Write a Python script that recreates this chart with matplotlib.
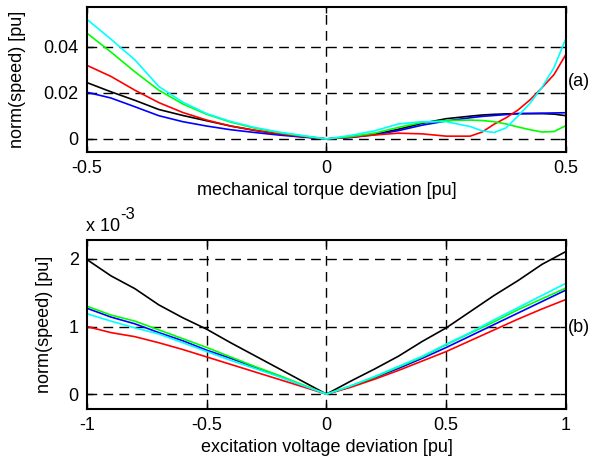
import matplotlib
matplotlib.use('Agg')
import matplotlib.pyplot as plt

plt.rcParams['font.family'] = ['Liberation Sans', 'DejaVu Sans']
plt.rcParams['font.size'] = 13

# (a) mechanical torque deviation sweep
torque_dev = [-0.5, -0.45, -0.4, -0.35, -0.3, -0.25, -0.2, -0.15, -0.1, -0.05, 0,
              0.05, 0.1, 0.15, 0.2, 0.25, 0.3, 0.325, 0.35, 0.375, 0.4, 0.425,
              0.45, 0.475, 0.5]
torque_k = [0.0245, 0.0205, 0.0168, 0.0128, 0.0102, 0.0079, 0.0056, 0.0037, 0.0021,
            0.001, 0, 0.0008, 0.002, 0.0042, 0.0068, 0.0088, 0.0099, 0.0104, 0.0107,
            0.0109, 0.011, 0.011, 0.011, 0.0108, 0.0101]
torque_b = [0.0203, 0.0178, 0.014, 0.0101, 0.0075, 0.0056, 0.004, 0.0028, 0.0017,
            0.0008, 0, 0.0006, 0.0018, 0.0036, 0.006, 0.0078, 0.0092, 0.0098, 0.0102,
            0.0106, 0.011, 0.0111, 0.0112, 0.0113, 0.0114]
torque_r = [0.032, 0.0272, 0.0212, 0.0158, 0.0115, 0.0082, 0.0056, 0.0038, 0.0023,
            0.0011, 0, 0.0008, 0.0017, 0.0025, 0.0022, 0.0012, 0.0012, 0.003, 0.0064,
            0.0092, 0.0126, 0.017, 0.0223, 0.028, 0.0368]
torque_g = [0.046, 0.0378, 0.0292, 0.0212, 0.0152, 0.0107, 0.0073, 0.0047, 0.0028,
            0.0013, 0, 0.001, 0.0025, 0.005, 0.0072, 0.008, 0.0082, 0.008, 0.0075,
            0.0065, 0.0052, 0.004, 0.003, 0.0032, 0.0058]
torque_c = [0.052, 0.0434, 0.0344, 0.0228, 0.016, 0.011, 0.0076, 0.005, 0.003,
            0.0015, 0, 0.0015, 0.0035, 0.0065, 0.0075, 0.0075, 0.0054, 0.0035, 0.0028,
            0.0048, 0.01, 0.0155, 0.0225, 0.031, 0.0438]

# (b) excitation voltage deviation sweep, values in 1e-3 pu
volt_dev = [-1, -0.9, -0.8, -0.7, -0.6, -0.5, -0.4, -0.3, -0.2, -0.1, 0,
            0.1, 0.2, 0.3, 0.4, 0.5, 0.6, 0.7, 0.8, 0.9, 1]
volt_k = [1.99, 1.75, 1.56, 1.32, 1.13, 0.96, 0.76, 0.57, 0.38, 0.19, 0,
          0.19, 0.37, 0.56, 0.78, 0.98, 1.22, 1.46, 1.68, 1.92, 2.11]
volt_b = [1.27, 1.14, 1.04, 0.91, 0.79, 0.65, 0.53, 0.40, 0.27, 0.13, 0,
          0.11, 0.24, 0.38, 0.53, 0.69, 0.86, 1.03, 1.20, 1.37, 1.54]
volt_r = [1.0, 0.91, 0.85, 0.76, 0.66, 0.55, 0.44, 0.33, 0.22, 0.11, 0,
          0.10, 0.22, 0.35, 0.49, 0.63, 0.79, 0.95, 1.11, 1.26, 1.40]
volt_g = [1.30, 1.17, 1.08, 0.95, 0.82, 0.69, 0.55, 0.41, 0.28, 0.14, 0,
          0.12, 0.25, 0.40, 0.55, 0.73, 0.90, 1.07, 1.25, 1.41, 1.57]
volt_c = [1.19, 1.08, 0.98, 0.89, 0.76, 0.63, 0.50, 0.38, 0.26, 0.13, 0,
          0.12, 0.26, 0.41, 0.56, 0.74, 0.91, 1.10, 1.28, 1.46, 1.64]

COLORS = ['k', 'b', 'r', (0, 1, 0), (0, 1, 1)]


def style_axes(ax, xticks, yticks):
    ax.set_xticks(xticks)
    ax.set_yticks(yticks)
    ax.tick_params(direction='in', length=4, width=1, top=True, right=True,
                   labelsize=13, pad=6)
    for s in ax.spines.values():
        s.set_linewidth(1.5)
    for v in yticks:
        ax.axhline(v, color='k', lw=1, dashes=(7, 4.5), zorder=0)
    for v in xticks[1:-1]:
        ax.axvline(v, color='k', lw=1, dashes=(7, 4.5), zorder=0)


fig = plt.figure(figsize=(5.95, 4.73), dpi=100)

ax1 = fig.add_axes([0.1462, 0.6786, 0.805, 0.3066])
for y, c in zip([torque_k, torque_b, torque_r, torque_g, torque_c], COLORS):
    ax1.plot(torque_dev, y, color=c, lw=1.2)
ax1.set_xlim(-0.5, 0.5)
ax1.set_ylim(-0.0057, 0.0574)
style_axes(ax1, [-0.5, 0, 0.5], [0, 0.02, 0.04])
ax1.set_yticklabels(['0', '0.02', '0.04'])
ax1.set_xticklabels(['-0.5', '0', '0.5'])
ax1.set_xlabel('mechanical torque deviation [pu]', labelpad=3)
ax1.set_ylabel('norm(speed) [pu]')
ax1.yaxis.set_label_coords(-0.128, 0.5)

ax2 = fig.add_axes([0.1462, 0.1353, 0.805, 0.3573])
for y, c in zip([volt_k, volt_b, volt_r, volt_g, volt_c], COLORS):
    ax2.plot(volt_dev, y, color=c, lw=1.2)
ax2.set_xlim(-1, 1)
ax2.set_ylim(-0.22, 2.28)
style_axes(ax2, [-1, -0.5, 0, 0.5, 1], [0, 1, 2])
ax2.set_xticklabels(['-1', '-0.5', '0', '0.5', '1'])
ax2.set_xlabel('excitation voltage deviation [pu]', labelpad=3)
ax2.set_ylabel('norm(speed) [pu]')
ax2.yaxis.set_label_coords(-0.071, 0.5)

# exponent marker for the lower panel
fig.text(86 / 595, 1 - 231 / 473, 'x 10', fontsize=13, va='baseline', ha='left')
fig.text(120 / 595, 1 - 219 / 473, '-3', fontsize=12, va='baseline', ha='left')
fig.text(0.955, 1 - 82 / 473, '(a)', fontsize=13, va='center', ha='left')
fig.text(0.955, 1 - 327 / 473, '(b)', fontsize=13, va='center', ha='left')

fig.savefig('out.png', dpi=100)
